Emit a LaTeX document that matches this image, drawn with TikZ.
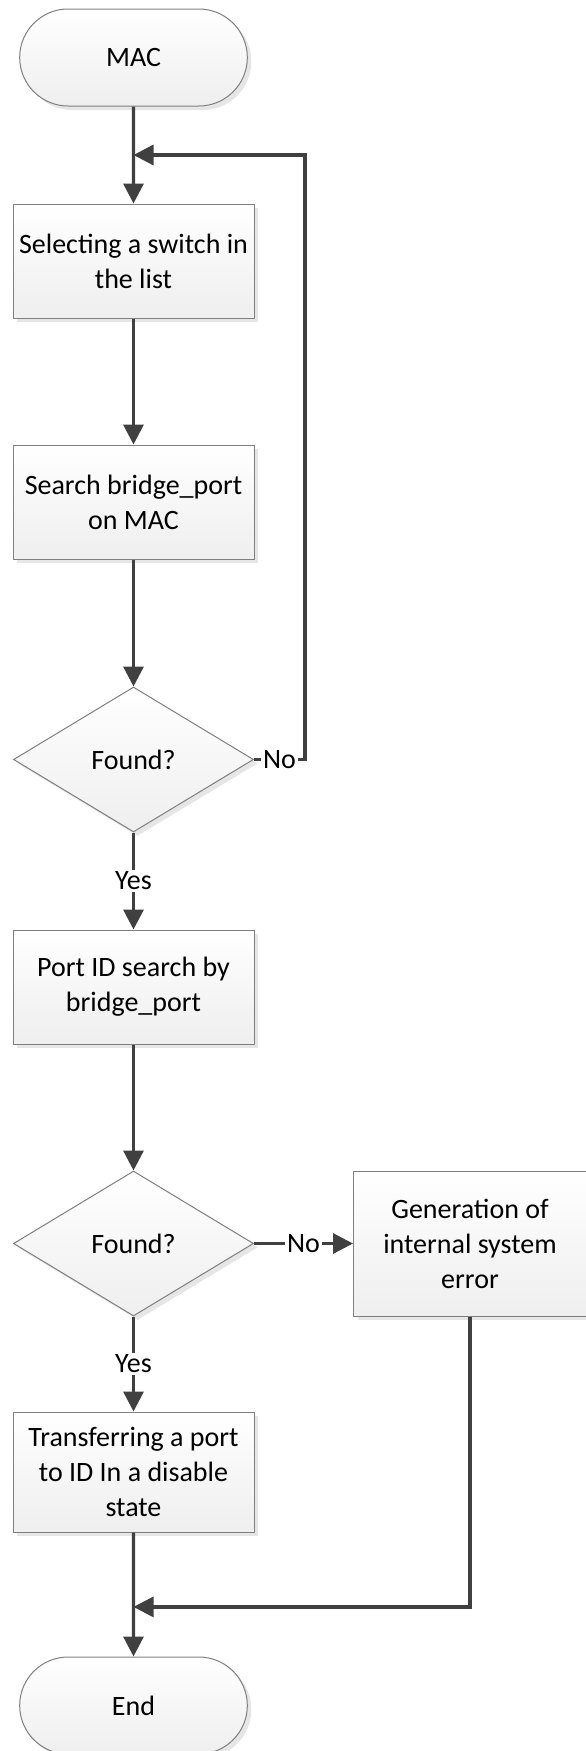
\documentclass[tikz,border=0pt]{standalone}
\usepackage{fontspec}
\setmainfont{Carlito}
\usetikzlibrary{arrows.meta,positioning,calc,shapes.geometric,shapes.misc,shadows}
\definecolor{boxgray}{HTML}{7F7F7F}
\definecolor{flowgray}{HTML}{404040}
\tikzset{
  base/.style={draw=boxgray, line width=0.5pt, top color=white, bottom color=gray!13, align=center, font=\fontsize{14}{17.5}\selectfont, drop shadow={opacity=0.2, shadow xshift=2pt, shadow yshift=-2pt}},
  term/.style={base, rounded rectangle, minimum width=120.5pt, minimum height=48.5pt},
  box/.style={base, rectangle, minimum width=120.5pt, minimum height=57pt, inner sep=2pt},
  dec/.style={base, diamond, minimum width=120pt, minimum height=72.5pt, inner sep=0pt},
  arr/.style={-{Triangle[length=10pt,width=10pt]}, line width=1.6pt, draw=flowgray},
  lbl/.style={fill=white, inner sep=1pt, font=\fontsize{14}{17.5}\selectfont},
}
\begin{document}
\begin{tikzpicture}[node distance=63pt]
\useasboundingbox (0,0) rectangle (292.5pt,-875.5pt);
\node[term] (mac) at (66.75pt,-28.75pt) {MAC};
\node[box, below=48.5pt of mac] (sel) {Selecting a switch in\\the list};
\node[box, below=of sel] (srch) {Search bridge\_port\\on MAC};
\node[dec, below=63.5pt of srch] (f1) {Found?};
\node[box, below=48.5pt of f1] (pid) {Port ID search by\\bridge\_port};
\node[dec, below=of pid] (f2) {Found?};
\node[box, right=49.5pt of f2, minimum width=116.5pt, minimum height=72.5pt] (err) {Generation of\\internal system\\error};
\node[box, below=47.5pt of f2, minimum height=60pt] (trn) {Transferring a port\\to ID In a disable\\state};
\node[term, below=62pt of trn] (end) {End};
\coordinate (j1) at ($(mac.south)!0.5!(sel.north)$);
\coordinate (j2) at ($(trn.south)!0.6!(end.north)$);
\draw[arr] (mac) -- (sel);
\draw[arr] (sel) -- (srch);
\draw[arr] (srch) -- (f1);
\draw[arr] (f1.east) -- node[lbl]{No} ++(25.5pt,0) |- (j1);
\draw[arr] (f1) -- node[lbl]{Yes} (pid);
\draw[arr] (pid) -- (f2);
\draw[arr] (f2) -- node[lbl]{No} (err);
\draw[arr] (f2) -- node[lbl]{Yes} (trn);
\draw[arr] (trn) -- (end);
\draw[arr] (err) |- (j2);
\end{tikzpicture}
\end{document}
